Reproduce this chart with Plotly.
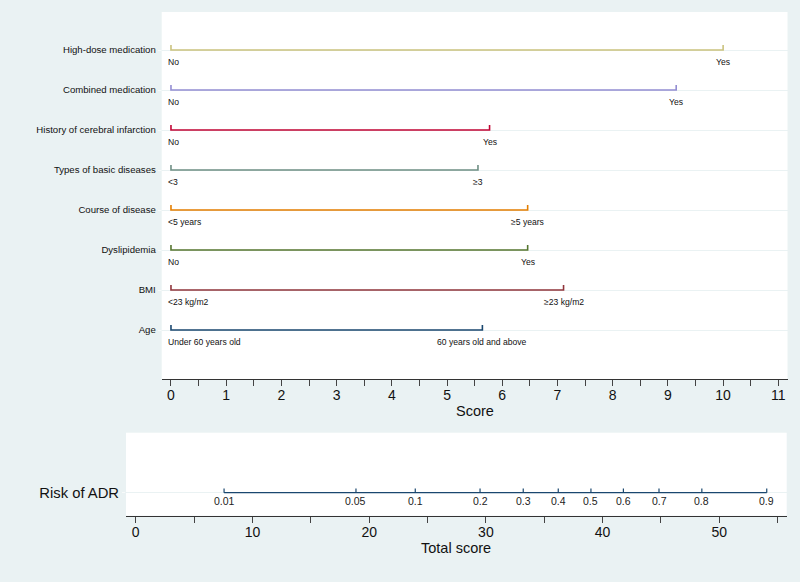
import plotly.graph_objects as go

# ---------------- data ----------------
variables = ["Age", "BMI", "Dyslipidemia", "Course of disease",
             "Types of basic diseases", "History of cerebral infarction",
             "Combined medication", "High-dose medication"]
max_points = [5.64, 7.11, 6.46, 6.46, 5.56, 5.77, 9.15, 10.0]
low_labels = ["Under 60 years old", "<23 kg/m2", "No", "<5 years", "<3", "No", "No", "No"]
high_labels = ["60 years old and above", "\u226523 kg/m2", "Yes", "\u22655 years",
               "\u22653", "Yes", "Yes", "Yes"]
line_colors = ["#1a476f", "#90353b", "#55752f", "#e37e00",
               "#6e8e84", "#c10534", "#938dd2", "#cac27e"]

risk_probs = ["0.01", "0.05", "0.1", "0.2", "0.3", "0.4", "0.5", "0.6", "0.7", "0.8", "0.9"]
risk_scores = [7.57, 18.87, 23.95, 29.5, 33.2, 36.2, 39.0, 41.78, 44.83, 48.5, 54.06]

score_ticks = list(range(0, 12))
total_ticks = list(range(0, 60, 10))

# ---------------- figure ----------------
W, H = 800, 582
BG = "#eaf2f3"
FONT = "Arial, 'Liberation Sans', sans-serif"

fig = go.Figure()
rows = list(range(1, len(variables) + 1))
end_tick = 0.125

for r, v, mp, c in zip(rows, variables, max_points, line_colors):
    fig.add_trace(go.Scatter(
        x=[0, 0, mp, mp], y=[r + end_tick, r, r, r + end_tick],
        mode="lines", line=dict(color=c, width=1.6),
        hoverinfo="skip", showlegend=False, xaxis="x", yaxis="y"))

for r, mp, lo, hi in zip(rows, max_points, low_labels, high_labels):
    fig.add_annotation(x=0, y=r, xref="x", yref="y", text=lo, showarrow=False,
                       xanchor="left", yanchor="middle", xshift=-5, yshift=-12,
                       font=dict(size=8.6, color="#111", family=FONT))
    fig.add_annotation(x=mp, y=r, xref="x", yref="y", text=hi, showarrow=False,
                       xanchor="center", yanchor="middle", yshift=-12,
                       font=dict(size=8.6, color="#111", family=FONT))

# risk line
risk_tick = 0.05
fig.add_trace(go.Scatter(
    x=[min(risk_scores), max(risk_scores)], y=[0, 0], mode="lines",
    line=dict(color="#1a476f", width=1.3), hoverinfo="skip", showlegend=False,
    xaxis="x2", yaxis="y2"))
for s in risk_scores:
    fig.add_trace(go.Scatter(
        x=[s, s], y=[0, risk_tick], mode="lines",
        line=dict(color="#1a476f", width=1.2), hoverinfo="skip", showlegend=False,
        xaxis="x2", yaxis="y2"))
for s, p in zip(risk_scores, risk_probs):
    fig.add_annotation(x=s, y=0, xref="x2", yref="y2", text=p, showarrow=False,
                       xanchor="center", yanchor="middle", yshift=-8,
                       font=dict(size=10.5, color="#222", family=FONT))

# axis titles
fig.add_annotation(x=474.5 / W, y=1 - 411 / H, xref="paper", yref="paper", text="Score",
                   showarrow=False, xanchor="center", yanchor="middle",
                   font=dict(size=14.5, color="#111", family=FONT))
fig.add_annotation(x=456.4 / W, y=1 - 547.5 / H, xref="paper", yref="paper", text="Total score",
                   showarrow=False, xanchor="center", yanchor="middle",
                   font=dict(size=14.5, color="#111", family=FONT))

axis_common = dict(showgrid=False, zeroline=False, showline=True, linecolor="#333",
                   linewidth=1, ticks="outside", ticklen=6, tickwidth=1, tickcolor="#444",
                   ticklabelstandoff=-3,
                   tickfont=dict(size=14, color="#111", family=FONT), fixedrange=True)

fig.update_layout(
    width=W, height=H, margin=dict(l=0, r=0, t=0, b=0),
    paper_bgcolor=BG, plot_bgcolor="white", showlegend=False,
    xaxis=dict(domain=[161.7 / W, 787.5 / W], range=[-0.168, 11.166],
               tickvals=score_ticks, anchor="y",
               minor=dict(dtick=0.5, tick0=0, ticks="outside", ticklen=6, tickcolor="#444"),
               **axis_common),
    yaxis=dict(domain=[1 - 379.3 / H, 1 - 12 / H], range=[-0.2325, 8.95],
               tickvals=rows, ticktext=variables, anchor="x",
               showgrid=True, gridcolor=BG, gridwidth=1, zeroline=False, showline=False,
               ticks="outside", ticklen=3, tickcolor="#f7fafa",
               tickfont=dict(size=9.6, color="#111", family=FONT), fixedrange=True),
    xaxis2=dict(domain=[126 / W, 786.7 / W], range=[-0.831, 55.77],
                tickvals=total_ticks, anchor="y2",
                minor=dict(dtick=5, tick0=0, ticks="outside", ticklen=6, tickcolor="#444"),
                **axis_common),
    yaxis2=dict(domain=[1 - 515.7 / H, 1 - 432.7 / H], range=[-0.2771, 0.7229],
                tickvals=[0], ticktext=["Risk of ADR"], anchor="x2",
                showgrid=True, gridcolor=BG, gridwidth=1, zeroline=False, showline=False,
                ticks="outside", ticklen=3, tickcolor="#f7fafa",
                tickfont=dict(size=14.8, color="#111", family=FONT), fixedrange=True),
)

fig.write_html("out.html")
